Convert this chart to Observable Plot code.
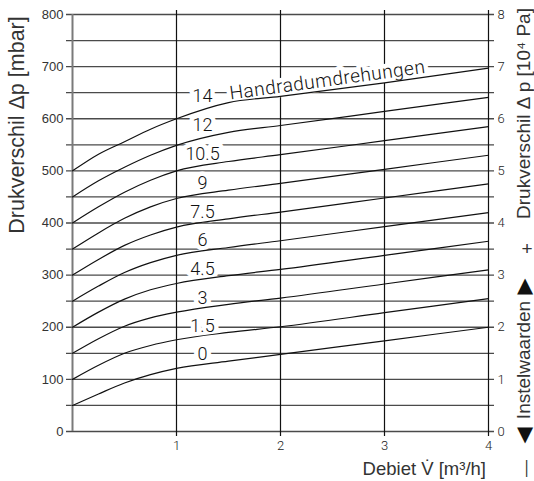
<!DOCTYPE html>
<html><head><meta charset="utf-8">
<script src="https://cdn.jsdelivr.net/npm/d3@7"></script>
<script src="https://cdn.jsdelivr.net/npm/@observablehq/plot@0.6"></script>
<style>
body{margin:0;background:#fff}
#chart svg{display:block}
</style>
</head><body><div id="chart"></div>
<script>
// ---- data ----
const flows = [0, 0.25, 0.5, 0.75, 1, 1.5, 2, 3, 4];           // m³/h
const settings = ["0", "1.5", "3", "4.5", "6", "7.5", "9", "10.5", "12", "14"];
const dp0   = [ 50,  72,  93, 109, 121, 135, 148, 174, 200];
const dp1_5 = [100, 127, 150, 165, 176, 190, 201, 228, 255];
const dp3   = [150, 178, 202, 218, 229, 244, 256, 283, 310];
const dp4_5 = [200, 229, 254, 272, 284, 299, 311, 338, 365];
const dp6   = [250, 279, 305, 324, 338, 353, 366, 393, 420];
const dp7_5 = [300, 330, 357, 377, 392, 408, 421, 448, 475];
const dp9   = [350, 381, 409, 431, 447, 463, 476, 503, 530];
const dp10_5= [400, 431, 459, 482, 500, 518, 531, 558, 585];
const dp12  = [450, 481, 507, 530, 549, 574, 587, 614, 641];
const dp14  = [500, 532, 556, 580, 600, 631, 643, 669, 697];
const series = [dp0, dp1_5, dp3, dp4_5, dp6, dp7_5, dp9, dp10_5, dp12, dp14];
const gridLines = [0,50,100,150,200,250,300,350,400,450,500,550,600,650,700,750,800];
const leftTicks = [0,100,200,300,400,500,600,700,800];
const rightTickLabels = ["0","1","2","3","4","5","6","7","8"];
const xTicks = [1,2,3,4];
const xLabelTicks = ["1","2","3","4"];
const headerText = "Handradumdrehungen";

// ---- layout / style ----
const labelFlow = 1.25;
const labelSeriesIndex = 6;   // labels sit at the level of the curve value at 2 m³/h
const tech = "Roboto, 'DejaVu Sans', sans-serif";
const sans = "'Liberation Sans', Arial, Helvetica, sans-serif";

const table = series.flatMap((vals, i) => flows.map((f, j) => ({setting: settings[i], flow: f, dp: vals[j]})));
const labels = settings.map((s, i) => ({s, flow: labelFlow, dp: series[i][labelSeriesIndex]}));
const topSeries = series[series.length - 1];
const header = [{t: headerText, flow: flows[5], dp: topSeries[5]}];

const labelOpts = {x: "flow", y: "dp", text: "s", fontSize: 18, fontFamily: tech, fontWeight: 300, textAnchor: "middle", lineAnchor: "middle"};
const headerOpts = {x: "flow", y: "dp", text: "t", fontSize: 19, fontFamily: tech, fontWeight: 300, textAnchor: "start", lineAnchor: "bottom", rotate: -7.8, dx: 2, dy: -3, style: {letterSpacing: "0.55px"}};

const chart = Plot.plot({
  width: 534, height: 481,
  marginLeft: 72, marginRight: 46, marginTop: 14, marginBottom: 50,
  style: {background: "#fff", overflow: "visible"},
  x: {domain: [0, 4], axis: null},
  y: {domain: [0, 800], axis: null},
  marks: [
    Plot.ruleY(gridLines, {stroke: "#4a4a4a", strokeWidth: 1.3, insetLeft: -6, insetRight: -6}),
    Plot.ruleX(xTicks, {stroke: "#111", strokeWidth: 1.2, insetTop: -4, insetBottom: -5}),
    Plot.ruleX([0], {stroke: "#7a7a7a", strokeWidth: 2}),
    Plot.text(labels, {...labelOpts, fill: "white", stroke: "white", strokeWidth: 9}),
    Plot.text(header, {...headerOpts, fill: "white", stroke: "white", strokeWidth: 9}),
    Plot.line(table, {x: "flow", y: "dp", z: "setting", curve: "monotone-x", stroke: "#111", strokeWidth: 1.2}),
    Plot.text(labels, {...labelOpts, fill: "#111"}),
    Plot.text(header, {...headerOpts, fill: "#111"}),
    Plot.axisY(leftTicks, {anchor: "left", tickSize: 0, tickPadding: 9, fontSize: 13, fontFamily: sans, fill: "#333", label: null}),
    Plot.axisY(leftTicks, {anchor: "right", tickSize: 0, tickPadding: 9, fontSize: 13, fontFamily: tech, fontWeight: 300, fill: "#222", label: null, tickFormat: (d, i) => rightTickLabels[i]}),
    Plot.axisX(xTicks, {anchor: "bottom", tickSize: 0, tickPadding: 9, fontSize: 13, fontFamily: tech, fontWeight: 300, fill: "#222", label: null, tickFormat: (d, i) => xLabelTicks[i]})
  ]
});
document.getElementById("chart").append(chart);

// header letter spacing (applied to the text elements of the header marks)
d3.select(chart).selectAll("text").filter(function() { return this.textContent === headerText; }).attr("letter-spacing", "0.55");

// ---- axis titles ----
const svg = d3.select(chart);
function addText(t, x, y, opts) {
  const el = svg.append("text").attr("transform", `translate(${x},${y})` + (opts.rotate ? ` rotate(${opts.rotate})` : ""))
    .attr("text-anchor", opts.anchor || "middle")
    .attr("font-family", opts.family || sans)
    .attr("font-size", opts.size)
    .attr("fill", opts.fill || "#333");
  if (opts.baseline) el.attr("dominant-baseline", opts.baseline);
  el.text(t);
  return el;
}
addText("Drukverschil \u0394p [mbar]", 24, 125, {rotate: -90, size: 21.5});
addText("Debiet V\u0307 [m\u00B3/h]", 486, 475, {anchor: "end", size: 18.5});
addText("Drukverschil \u0394 p [10\u2074 Pa]", 530, 113.5, {rotate: -90, size: 19});
addText("+", 527, 248, {size: 19, baseline: "central"});
addText("\u25B2", 525, 285, {size: 21, baseline: "central", fill: "#111", family: "'DejaVu Sans', sans-serif"});
addText("Instelwaarden", 530, 360, {rotate: -90, size: 19});
addText("\u25BC", 525, 433.5, {size: 21, baseline: "central", fill: "#111", family: "'DejaVu Sans', sans-serif"});
addText("\u2014", 531, 468.5, {rotate: -90, size: 17});
</script>
</body></html>
